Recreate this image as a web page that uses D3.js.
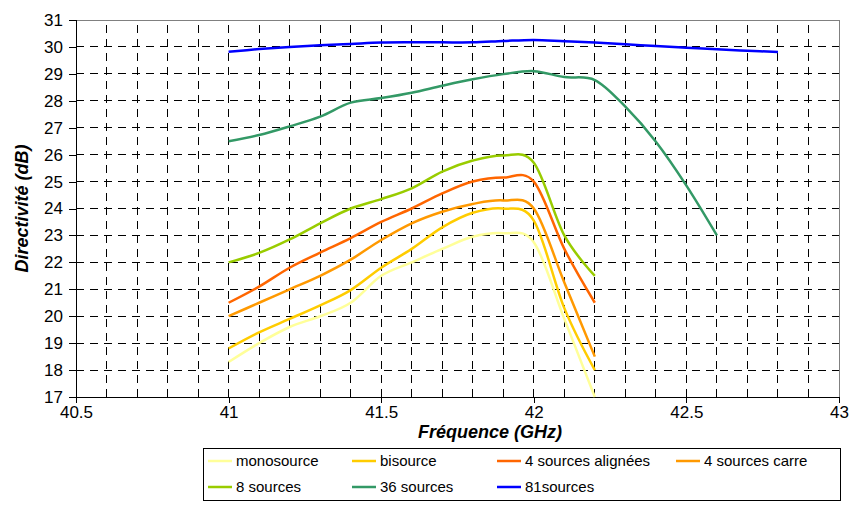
<!DOCTYPE html>
<html>
<head>
<meta charset="utf-8">
<script src="https://cdn.jsdelivr.net/npm/d3@7"></script>
<style>
	body { margin: 0; background: #fff; }
	svg { display: block; font-family: "Liberation Sans", Arial, sans-serif; }
</style>
</head>
<body>
<svg width="851" height="525"></svg>
<script>
// frequencies (GHz)
const freqs = [41, 41.1, 41.2, 41.3, 41.4, 41.5, 41.6, 41.7, 41.8, 41.9, 42, 42.1, 42.2, 42.3, 42.4, 42.5, 42.6, 42.7, 42.8]

// directivity (dB) per configuration
const monosource = [18.3, 19.0, 19.6, 20.0, 20.5, 21.5, 22.0, 22.5, 22.95, 23.08, 22.75, 19.9, 17.0]
const bisource = [18.8, 19.4, 19.9, 20.4, 20.97, 21.8, 22.5, 23.3, 23.84, 24.0, 23.55, 20.3, 18.0]
const alignees = [20.5, 21.1, 21.8, 22.36, 22.9, 23.5, 24.0, 24.56, 25.0, 25.15, 25.0, 22.5, 20.5]
const carre = [20.0, 20.5, 21.0, 21.5, 22.1, 22.83, 23.45, 23.88, 24.17, 24.3, 24.0, 21.25, 18.5]
const sources8 = [22.0, 22.35, 22.85, 23.45, 24.0, 24.35, 24.75, 25.37, 25.78, 25.97, 25.7, 23.0, 21.5]
const sources36 = [26.5, 26.73, 27.05, 27.41, 27.93, 28.1, 28.3, 28.56, 28.8, 28.99, 29.1, 28.88, 28.77, 27.78, 26.48, 24.85, 23.0]
const sources81 = [29.82, 29.92, 30.0, 30.06, 30.11, 30.16, 30.17, 30.17, 30.17, 30.22, 30.26, 30.21, 30.16, 30.1, 30.03, 29.97, 29.91, 29.86, 29.81]

const names = ['monosource', 'bisource', '4 sources alignées', '4 sources carre', '8 sources', '36 sources', '81sources']
const colors = ['#FFFF99', '#FFCC00', '#FF6600', '#FF9900', '#99CC00', '#339966', '#0000FF']
const values = [monosource, bisource, alignees, carre, sources8, sources36, sources81]

const xTicks = [40.5, 41, 41.5, 42, 42.5, 43]
const yTicks = [17, 18, 19, 20, 21, 22, 23, 24, 25, 26, 27, 28, 29, 30, 31]

const svg = d3.select("svg")

const x = d3.scaleLinear().domain([40.5, 43]).range([76, 839])
const y = d3.scaleLinear().domain([17, 31]).range([397, 20])

// grid
const grid = svg.append("g")
	.attr("stroke", "#000")
	.attr("stroke-dasharray", "8,6")
	.attr("shape-rendering", "crispEdges")

grid.selectAll("line.h")
	.data(yTicks.slice(1, -1))
	.join("line")
	.attr("x1", x(40.5)).attr("x2", x(43))
	.attr("y1", d => y(d)).attr("y2", d => y(d))

grid.selectAll("line.v")
	.data(d3.range(1, 25).map(i => 40.5 + i / 10))
	.join("line")
	.attr("y1", y(17)).attr("y2", y(31))
	.attr("x1", d => x(d)).attr("x2", d => x(d))

// plot frame (top + right)
svg.append("path")
	.attr("d", `M${x(40.5)},${y(31)}H${x(43)}V${y(17)}`)
	.attr("fill", "none")
	.attr("stroke", "#808080")
	.attr("shape-rendering", "crispEdges")

// axes
const yAxis = svg.append("g")
	.attr("transform", `translate(${x(40.5)},0)`)
	.call(d3.axisLeft(y).tickValues(yTicks).tickSize(7).tickPadding(6).tickFormat(d3.format("d")))
const xAxis = svg.append("g")
	.attr("transform", `translate(0,${y(17)})`)
	.call(d3.axisBottom(x).tickValues(xTicks).tickSize(6).tickPadding(3).tickFormat(d => d))

svg.selectAll(".domain, .tick line")
	.attr("stroke", "#000")
	.attr("shape-rendering", "crispEdges")
svg.selectAll(".tick text")
	.attr("font-family", "Liberation Sans, Arial, sans-serif")
	.attr("font-size", 17)
	.attr("fill", "#000")
yAxis.select(".domain").attr("d", `M0,${y(17)}V${y(31)}`)
xAxis.select(".domain").attr("d", `M${x(40.5)},0H${x(43)}`)

// series
const line = d3.line()
	.x(d => x(d[0]))
	.y(d => y(d[1]))
	.curve(d3.curveCatmullRom.alpha(0))

svg.append("g")
	.selectAll("path")
	.data(values)
	.join("path")
	.attr("fill", "none")
	.attr("stroke", (d, i) => colors[i])
	.attr("stroke-width", 2.5)
	.attr("d", d => line(d.map((v, i) => [freqs[i], v])))

// axis titles
svg.append("text")
	.attr("x", 490)
	.attr("y", 438)
	.attr("text-anchor", "middle")
	.attr("font-size", 18)
	.attr("font-weight", "bold")
	.attr("font-style", "italic")
	.text("Fréquence (GHz)")

svg.append("text")
	.attr("transform", `translate(28,${(y(17) + y(31)) / 2}) rotate(-90)`)
	.attr("text-anchor", "middle")
	.attr("font-size", 18)
	.attr("font-weight", "bold")
	.attr("font-style", "italic")
	.text("Directivité (dB)")

// legend
const legend = svg.append("g")
legend.append("rect")
	.attr("x", 203.5).attr("y", 448.5)
	.attr("width", 637).attr("height", 52)
	.attr("fill", "#fff")
	.attr("stroke", "#000")

const colX = [208, 352, 497, 676]
const item = legend.selectAll("g.item")
	.data(names)
	.join("g")
	.attr("transform", (d, i) => `translate(${colX[i % 4]},${i < 4 ? 461 : 487})`)

item.append("line")
	.attr("x1", 0).attr("x2", 24)
	.attr("stroke", (d, i) => colors[i])
	.attr("stroke-width", 2.5)
item.append("text")
	.attr("x", 28)
	.attr("dy", "0.35em")
	.attr("font-size", 15)
	.text(d => d)
</script>
</body>
</html>
